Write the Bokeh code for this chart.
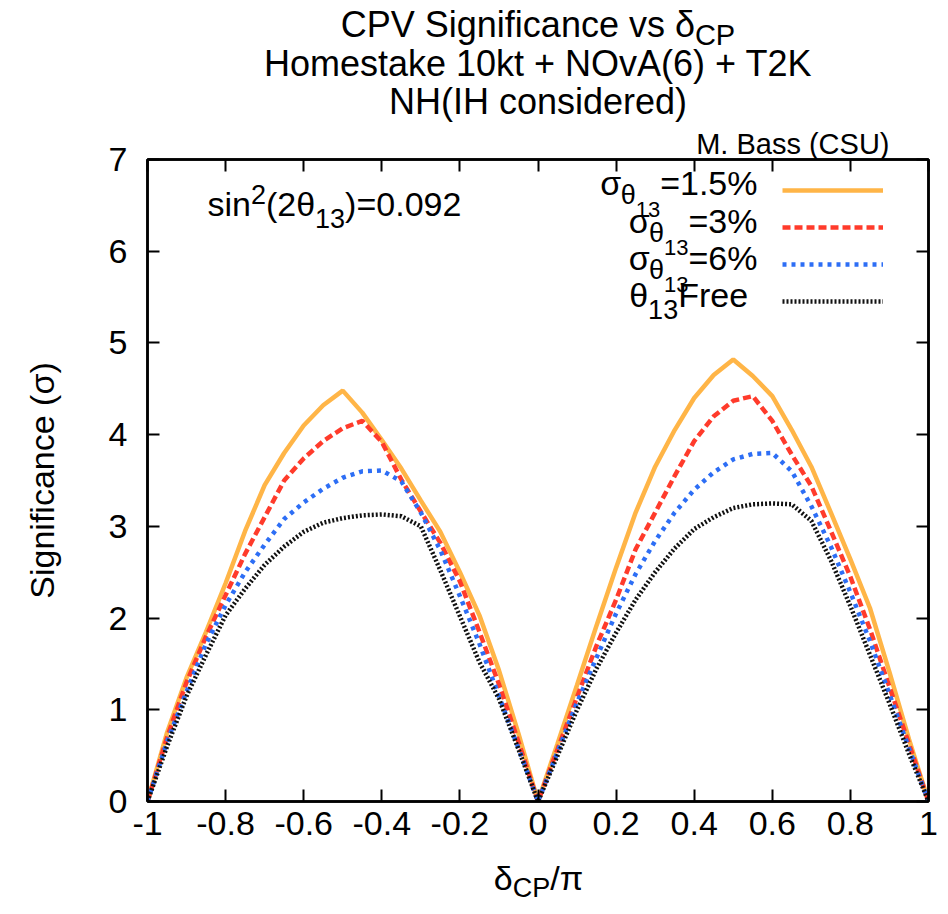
from bokeh.plotting import figure
from bokeh.layouts import column
from bokeh.models import Range1d, FixedTicker, LinearAxis, Label, Legend, LegendItem, Title
from bokeh.core.properties import value
from bokeh.embed import file_html
from bokeh.resources import INLINE

# ---------------- data ----------------
DELTA = [-1.00, -0.95, -0.90, -0.85, -0.80, -0.75, -0.70, -0.65, -0.60, -0.55,
         -0.50, -0.45, -0.40, -0.35, -0.30, -0.25, -0.20, -0.15, -0.10, -0.05,
         0.00, 0.05, 0.10, 0.15, 0.20, 0.25, 0.30, 0.35, 0.40, 0.45,
         0.50, 0.55, 0.60, 0.65, 0.70, 0.75, 0.80, 0.85, 0.90, 0.95, 1.00]

SIG_1P5 = [0.00, 0.75, 1.35, 1.85, 2.38, 2.95, 3.45, 3.80, 4.10, 4.32,
           4.48, 4.24, 3.94, 3.63, 3.28, 2.94, 2.50, 2.03, 1.43, 0.74,
           0.00, 0.63, 1.27, 1.92, 2.55, 3.15, 3.65, 4.05, 4.40, 4.65,
           4.82, 4.64, 4.42, 4.05, 3.65, 3.15, 2.64, 2.11, 1.41, 0.68, 0.00]

SIG_3 = [0.00, 0.70, 1.30, 1.80, 2.25, 2.70, 3.10, 3.50, 3.74, 3.93,
         4.07, 4.15, 3.92, 3.51, 3.16, 2.82, 2.40, 1.85, 1.28, 0.65,
         0.00, 0.57, 1.14, 1.70, 2.20, 2.75, 3.15, 3.55, 3.93, 4.20,
         4.37, 4.42, 4.15, 3.78, 3.44, 2.95, 2.45, 1.88, 1.25, 0.63, 0.00]

SIG_6 = [0.00, 0.65, 1.20, 1.72, 2.14, 2.50, 2.80, 3.08, 3.26, 3.41,
         3.53, 3.60, 3.61, 3.49, 3.15, 2.74, 2.24, 1.72, 1.15, 0.58,
         0.00, 0.54, 1.08, 1.57, 2.05, 2.48, 2.84, 3.15, 3.40, 3.59,
         3.73, 3.79, 3.80, 3.60, 3.22, 2.78, 2.28, 1.75, 1.17, 0.58, 0.00]

SIG_FREE = [0.00, 0.60, 1.15, 1.60, 2.03, 2.32, 2.58, 2.78, 2.94, 3.04,
            3.09, 3.12, 3.13, 3.11, 3.00, 2.52, 2.02, 1.52, 1.12, 0.57,
            0.00, 0.50, 1.00, 1.45, 1.84, 2.20, 2.50, 2.76, 2.97, 3.10,
            3.20, 3.24, 3.25, 3.24, 3.06, 2.63, 2.13, 1.60, 1.07, 0.52, 0.00]

X_TICKS = [-1, -0.8, -0.6, -0.4, -0.2, 0, 0.2, 0.4, 0.6, 0.8, 1]
X_TICK_LABELS = ["-1", "-0.8", "-0.6", "-0.4", "-0.2", "0", "0.2", "0.4", "0.6", "0.8", "1"]
Y_TICKS = [0, 1, 2, 3, 4, 5, 6, 7]
Y_TICK_LABELS = ["0", "1", "2", "3", "4", "5", "6", "7"]

LEGEND_VALUES = ["=1.5%", "=3%", "=6%"]

# ---------------- layout / style ----------------
FONT = "Liberation Sans"
W = 940
FL, FR, FT, FB = 147, 928, 159, 801      # frame edges in page pixels
TOP_H = 124                              # title strip height
MAIN_BOTTOM = 851                        # page y where the main figure ends
PAGE_H = 912
X0, X1, Y0, Y1 = -1.0, 1.0, 0.0, 7.0
BASE_FIX = 0.38                          # baseline correction (in em) for Label placement


def strip(height, y_top):
    f = figure(width=W, height=height, x_range=Range1d(FL, FR),
               y_range=Range1d(y_top + height, y_top),
               x_axis_type=None, y_axis_type=None, output_backend="svg",
               toolbar_location=None, title_location=None,
               min_border_left=FL, min_border_right=W - FR,
               min_border_top=0, min_border_bottom=0,
               background_fill_color="white", border_fill_color="white")
    f.outline_line_color = None
    f.xgrid.visible = False
    f.ygrid.visible = False
    return f


title_fig = strip(TOP_H, 0)
xlab_fig = strip(PAGE_H - MAIN_BOTTOM, MAIN_BOTTOM)

p = figure(width=W, height=MAIN_BOTTOM - TOP_H,
           x_range=Range1d(X0, X1), y_range=Range1d(Y0, Y1),
           output_backend="svg", toolbar_location=None,
           min_border_left=FL, min_border_right=W - FR,
           min_border_top=FT - TOP_H, min_border_bottom=MAIN_BOTTOM - FB,
           background_fill_color="white", border_fill_color="white")
p.title = Title(text="M. Bass (CSU)", align="right", offset=39, standoff=0,
                text_font=FONT, text_font_size="29px", text_font_style="normal",
                text_color="black")
p.xgrid.visible = False
p.ygrid.visible = False
p.outline_line_color = "black"
p.outline_line_width = 2.5


def style_axis(ax, ticks, labels, show_labels=True):
    ax.ticker = FixedTicker(ticks=ticks, minor_ticks=[])
    ax.axis_line_color = "black"
    ax.axis_line_width = 2.5
    ax.major_tick_in = 12
    ax.major_tick_out = 0
    ax.major_tick_line_width = 2
    ax.major_tick_line_color = "black"
    ax.minor_tick_line_color = None
    if show_labels:
        ax.major_label_overrides = {t: l for t, l in zip(ticks, labels)}
        ax.major_label_text_font = FONT
        ax.major_label_text_font_size = "34px"
        ax.major_label_text_color = "black"
    else:
        ax.major_label_overrides = {t: "" for t in ticks}
        ax.major_label_text_font_size = "0px"
        ax.major_label_standoff = 0


xa = p.xaxis[0]
style_axis(xa, X_TICKS, X_TICK_LABELS)
xa.major_label_standoff = 10

ya = p.yaxis[0]
style_axis(ya, Y_TICKS, Y_TICK_LABELS)
ya.major_label_standoff = 20
ya.axis_label = "Significance (\u03c3)"
ya.axis_label_text_font = FONT
ya.axis_label_text_font_size = "34px"
ya.axis_label_text_font_style = "normal"
ya.axis_label_text_color = "black"
ya.axis_label_standoff = 45

top_ax = LinearAxis()
style_axis(top_ax, X_TICKS, X_TICK_LABELS, show_labels=False)
p.add_layout(top_ax, "above")
right_ax = LinearAxis()
style_axis(right_ax, Y_TICKS, Y_TICK_LABELS, show_labels=False)
p.add_layout(right_ax, "right")

# ---------------- curves ----------------
r1 = p.line(DELTA, SIG_1P5, line_color="#FFB547", line_width=4.5)
r2 = p.line(DELTA, SIG_3, line_color="#FF3B2B", line_width=4.5, line_dash="8 4")
r3 = p.line(DELTA, SIG_6, line_color="#2D6EF5", line_width=4.5, line_dash="4 5")
r4 = p.line(DELTA, SIG_FREE, line_color="#111111", line_width=4.5, line_dash="2 2")

legend = Legend(items=[LegendItem(label=value(" "), renderers=[r]) for r in (r1, r2, r3, r4)],
                location="top_right", glyph_width=101, glyph_height=30, spacing=7,
                padding=0, margin=16, label_width=29, label_height=20, label_standoff=0,
                label_text_font_size="1px", border_line_color=None,
                background_fill_alpha=0)
p.add_layout(legend)

# ---------------- texts ----------------
CW = {' ': 278, '(': 333, ')': 333, '+': 584, '-': 333, '.': 278, '/': 278, '=': 584, '%': 889,
      'A': 667, 'B': 667, 'C': 722, 'F': 611, 'H': 722, 'I': 278, 'K': 667, 'M': 833, 'N': 722,
      'O': 778, 'P': 667, 'S': 667, 'T': 611, 'U': 722, 'V': 667,
      'a': 556, 'c': 500, 'd': 556, 'e': 556, 'f': 278, 'g': 556, 'i': 222, 'k': 500, 'm': 833,
      'n': 556, 'o': 556, 'r': 333, 's': 500, 't': 278, 'v': 500,
      '\u03c3': 600, '\u03b8': 556, '\u03b4': 556, '\u03c0': 660}


def tw(s, size):
    return sum(CW.get(c, 556) for c in s) / 1000.0 * size


def ident(px, py):
    return px, py


def main_conv(px, py):
    return (X0 + (X1 - X0) * (px - FL) / (FR - FL),
            Y0 + (Y1 - Y0) * (FB - py) / (FB - FT))


def put(fig, conv, text, px, py, size, align="left"):
    x, y = conv(px, py - BASE_FIX * size)
    fig.add_layout(Label(x=x, y=y, text=text, text_font=FONT,
                         text_font_size=f"{size}px", text_align=align,
                         text_baseline="alphabetic", text_color="black"))


def pieces_width(pieces):
    return sum(tw(t, s) for t, s, _ in pieces)


def composite(fig, conv, pieces, px_start, base_py):
    x = px_start
    for t, s, dy in pieces:
        put(fig, conv, t, x, base_py + dy, s)
        x += tw(t, s)


CX = (FL + FR) / 2.0

# title block
t1 = [("CPV Significance vs \u03b4", 36, 0), ("CP", 29, 8)]
composite(title_fig, ident, t1, CX - pieces_width(t1) / 2.0, 38)
put(title_fig, ident, "Homestake 10kt + NOvA(6) + T2K", CX, 77, 36, "center")
put(title_fig, ident, "NH(IH considered)", CX, 115, 36, "center")

# sin^2 label inside the frame
sl = [("sin", 34, 0), ("2", 27, -12), ("(2\u03b8", 34, 0), ("13", 27, 12), (")=0.092", 34, 0)]
composite(p, main_conv, sl, 207, 216)

# legend texts
LEG_RIGHT = 757
rows_base = [195, 233, 270, 307]
for val, b in zip(LEGEND_VALUES, rows_base[:3]):
    pcs = [("\u03c3", 34, 0), ("\u03b8", 27, 10), ("13", 22, 22), (val, 34, 0)]
    composite(p, main_conv, pcs, LEG_RIGHT - pieces_width(pcs), b)
pcs = [("\u03b8", 34, 0), ("13", 27, 12), (" Free", 34, 0)]
composite(p, main_conv, pcs, LEG_RIGHT - pieces_width(pcs), rows_base[3])

# x-axis label
xl = [("\u03b4", 34, 0), ("CP", 27, 8), ("/\u03c0", 34, 0)]
composite(xlab_fig, ident, xl, CX - pieces_width(xl) / 2.0, 890)

page = column(title_fig, p, xlab_fig, spacing=0)
open("out.html", "w").write(file_html(page, INLINE))
